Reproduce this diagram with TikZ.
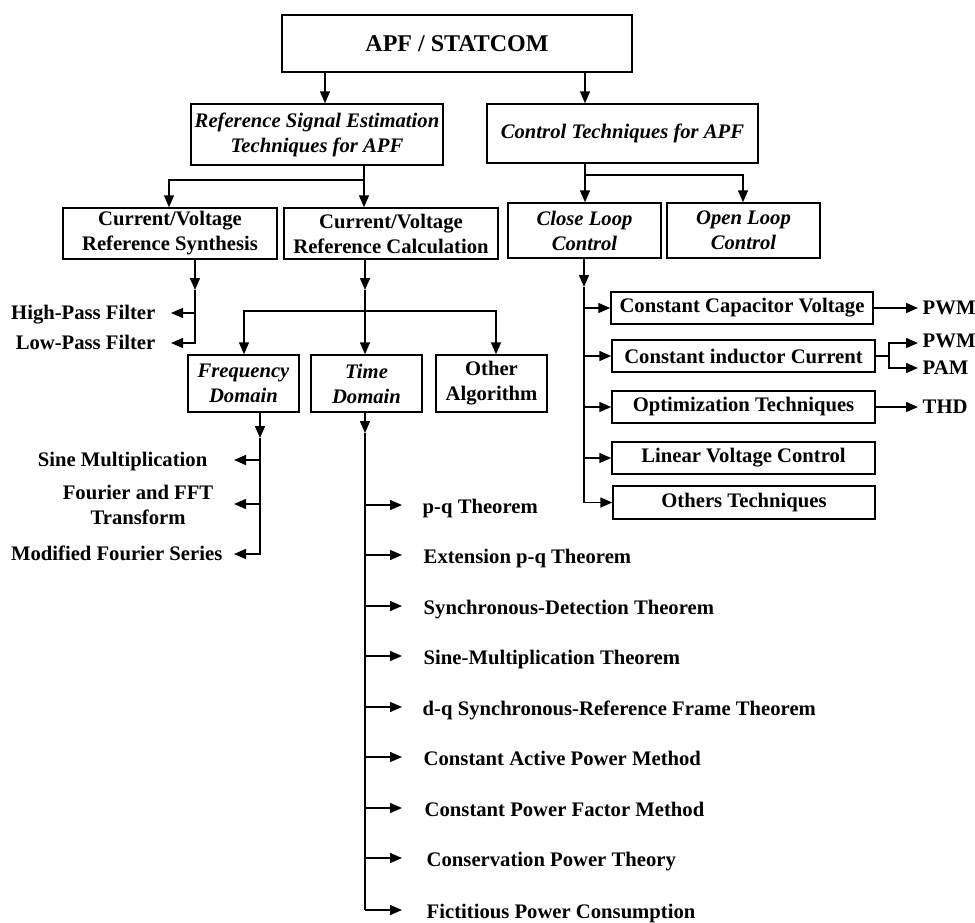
\documentclass[tikz,border=0pt]{standalone}
\usepackage{fontspec}
\setmainfont{Liberation Serif}
\usetikzlibrary{arrows.meta}
\newcommand\boxat[6]{%
  \node[#1, minimum width={0.75pt*(#4-#2)}, minimum height={0.75pt*(#5-#3)}]
    (#6) at ({(#2+#4)/2},{(#3+#5)/2})}
\begin{document}
\begin{tikzpicture}[x=0.75pt,y=-0.75pt,
  line width=1.1pt,
  arr/.style={-{Triangle[length=9pt,width=7.5pt]}},
  bx/.style={draw, inner sep=0pt, align=center, font=\fontsize{15.5}{18.75}\selectfont\bfseries},
  ibx/.style={bx, font=\fontsize{15.5}{18.75}\selectfont\bfseries\itshape},
  tbx/.style={bx, font=\fontsize{18}{22}\selectfont\bfseries},
  lbl/.style={inner sep=0pt, font=\fontsize{15.5}{18.75}\selectfont\bfseries, text height=11pt, text depth=3.5pt},
  mlbl/.style={inner sep=0pt, align=center, font=\fontsize{15.5}{18.75}\selectfont\bfseries}]
\useasboundingbox (0,0) rectangle (975,922);

% boxes
\boxat{tbx}{282}{15}{632}{72}{top} {APF / STATCOM};
\boxat{ibx}{191}{104}{443}{165}{rse} {Reference Signal Estimation\\Techniques for APF};
\boxat{ibx}{487}{104}{758}{163}{ct} {Control Techniques for APF};
\boxat{bx}{63}{208}{277}{259}{cvs} {Current/Voltage\\Reference Synthesis};
\boxat{bx}{284}{208}{498}{259}{cvc} {Current/Voltage\\Reference Calculation};
\boxat{ibx}{508}{203}{661}{258}{clc} {Close Loop\\Control};
\boxat{ibx}{667}{203}{820}{258}{olc} {Open Loop\\Control};
\boxat{ibx}{188}{355}{299}{412}{fd} {Frequency\\Domain};
\boxat{ibx}{311}{355}{422}{412}{td} {Time\\Domain};
\boxat{bx}{436}{355}{547}{412}{oa} {Other\\Algorithm};
\boxat{bx}{611}{292}{873}{324}{ccv} {Constant Capacitor Voltage};
\boxat{bx}{612}{340}{875}{372}{cic} {Constant inductor Current};
\boxat{bx}{612}{391}{875}{423}{ot} {Optimization Techniques};
\boxat{bx}{612}{442}{875}{474}{lvc} {Linear Voltage Control};
\boxat{bx}{613}{486}{875}{519}{oth} {Others Techniques};

% top level arrows
\coordinate (xa) at (325,0);
\coordinate (xb) at (585,0);
\draw[arr] (top.south -| xa) -- (rse.north -| xa);
\draw[arr] (top.south -| xb) -- (ct.north -| xb);

% RSE split
\coordinate (ja) at (364,180);
\coordinate (jb) at (169,180);
\draw (rse.south -| ja) -- (ja);
\draw[arr] (ja) -- (cvc.north -| ja);
\draw[arr] (ja) -- (jb) -- (cvs.north -| jb);

% CT split
\coordinate (jc) at (585,175);
\coordinate (jd) at (743,175);
\draw (ct.south -| jc) -- (jc);
\draw[arr] (jc) -- (clc.north -| jc);
\draw[arr] (jc) -- (jd) -- (olc.north -| jd);

% CVS branch
\coordinate (ka) at (195,290);
\coordinate (kb) at (195,313);
\coordinate (kc) at (195,343);
\coordinate (hpt) at (171,313);
\coordinate (lpt) at (171,343);
\node[lbl, anchor=east] (hp) at (156,314) {High-Pass Filter};
\node[lbl, anchor=east] (lp) at (156,344) {Low-Pass Filter};
\draw[arr] (cvs.south -| ka) -- (ka);
\draw[arr] (ka) -- (kc) -- (lpt);
\draw[arr] (kb) -- (hpt);

% CVC branch
\coordinate (ma) at (365,290);
\coordinate (mb) at (365,311);
\coordinate (mc) at (244,311);
\coordinate (md) at (496,311);
\draw[arr] (cvc.south -| ma) -- (ma);
\draw[arr] (ma) -- (td.north -| ma);
\draw[arr] (mb) -- (mc) -- (fd.north -| mc);
\draw[arr] (mb) -- (md) -- (oa.north -| md);

% Frequency domain list
\coordinate (fa) at (260,438);
\node[lbl, anchor=east] (fl1) at (208,461) {Sine Multiplication};
\node[mlbl, anchor=east] (fl2) at (214,505) {Fourier and FFT\\Transform};
\node[lbl, anchor=east] (fl3) at (223,555) {Modified Fourier Series};
\coordinate (fb1) at (260,460);
\coordinate (fb2) at (260,504);
\coordinate (fb3) at (260,554);
\coordinate (ft1) at (234,460);
\coordinate (ft2) at (234,504);
\coordinate (ft3) at (234,554);
\draw[arr] (fd.south -| fa) -- (fa);
\draw[arr] (fa) -- (fb3) -- (ft3);
\draw[arr] (fb1) -- (ft1);
\draw[arr] (fb2) -- (ft2);

% Time domain list
\coordinate (ta) at (365,433);
\draw[arr] (td.south -| ta) -- (ta);
\foreach \yy/\xx/\txt [count=\i] in {505/422/p-q Theorem,
  555/423/Extension p-q Theorem,
  606/423/Synchronous-Detection Theorem,
  656/423/Sine-Multiplication Theorem,
  707/422/d-q Synchronous-Reference Frame Theorem,
  757/423/Constant Active Power Method,
  808/424/Constant Power Factor Method,
  858/426/Conservation Power Theory,
  910/426/Fictitious Power Consumption}{
  \coordinate (tb\i) at (365,\yy);
  \coordinate (tt\i) at (402,\yy);
  \node[lbl, anchor=west] (tl\i) at (\xx,\yy+3) {\txt};
  \draw[arr] (tb\i) -- (tt\i);
}
\draw (ta) -- (tb9);

% Close loop list
\coordinate (na) at (584,287);
\draw[arr] (clc.south -| na) -- (na);
\draw[arr] (na) -- (oth.west -| na) -- (oth.west);
\foreach \n in {ccv,cic,ot,lvc}{
  \draw[arr] (\n.west -| na) -- (\n.west);
}

% outputs
\coordinate (pt1) at (918,308);
\node[lbl, anchor=west] (pwma) at (922,309) {PWM};
\draw[arr] (ccv.east) -- (pt1);

\coordinate (sa) at (889,356);
\coordinate (sb) at (889,343);
\coordinate (sc) at (889,368);
\coordinate (pt2) at (918,343);
\coordinate (pt3) at (918,368);
\node[lbl, anchor=west] (pwmb) at (922,342) {PWM};
\node[lbl, anchor=west] (pam) at (922,369) {PAM};
\draw (cic.east) -- (sa);
\draw[arr] (sa) -- (sb) -- (pt2);
\draw[arr] (sa) -- (sc) -- (pt3);

\coordinate (pt4) at (918,407);
\node[lbl, anchor=west] (thd) at (922,408) {THD};
\draw[arr] (ot.east) -- (pt4);
\end{tikzpicture}
\end{document}
